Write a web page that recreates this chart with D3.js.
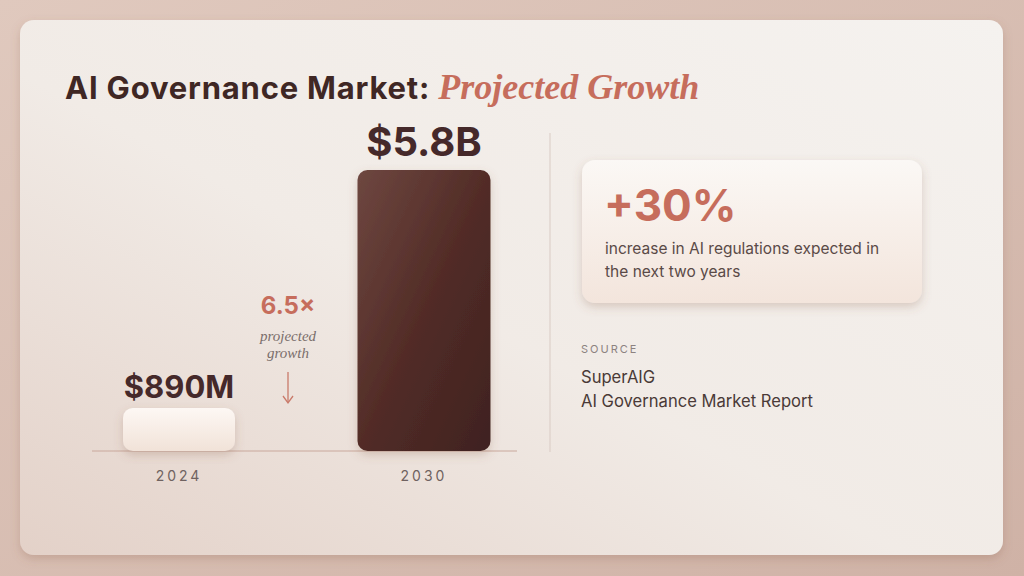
<!DOCTYPE html>
<html><head><meta charset="utf-8">
<script src="https://cdn.jsdelivr.net/npm/d3@7"></script>
<style>body{margin:0;background:#d9c3b8;}svg{display:block}</style>
</head><body><svg id="c" width="1024" height="576"></svg>
<script>
const years = ["2024", "2030"];
const values = [0.89, 5.8];
const valueLabels = ["$890M", "$5.8B"];
const multiplier = "6.5×";
const statValue = "+30%";
const statText = ["increase in AI regulations expected in", "the next two years"];
const sourceLines = ["SuperAIG", "AI Governance Market Report"];

const svg = d3.select("#c");
const defs = svg.append("defs");
const bg = defs.append("linearGradient").attr("id","bg").attr("x1","0").attr("y1","0").attr("x2","1").attr("y2","1");
bg.append("stop").attr("offset","0").attr("stop-color","#e0c9be");
bg.append("stop").attr("offset","1").attr("stop-color","#cfb2a6");
const card = defs.append("linearGradient").attr("id","card").attr("x1","0").attr("y1","1").attr("x2","1").attr("y2","0");
card.append("stop").attr("offset","0").attr("stop-color","#e3d1c8");
card.append("stop").attr("offset","0.45").attr("stop-color","#f1ebe6");
card.append("stop").attr("offset","1").attr("stop-color","#f5f2ef");
const dark = defs.append("linearGradient").attr("id","dark").attr("x1","0").attr("y1","0").attr("x2","1").attr("y2","1");
dark.append("stop").attr("offset","0").attr("stop-color","#6e4740");
dark.append("stop").attr("offset","0.5").attr("stop-color","#522c27");
dark.append("stop").attr("offset","1").attr("stop-color","#3f2220");
const light = defs.append("linearGradient").attr("id","light").attr("x1","0").attr("y1","0").attr("x2","0").attr("y2","1");
light.append("stop").attr("offset","0").attr("stop-color","#fdf8f4");
light.append("stop").attr("offset","1").attr("stop-color","#f1e2d8");
const stat = defs.append("linearGradient").attr("id","stat").attr("x1","0").attr("y1","0").attr("x2","0").attr("y2","1");
stat.append("stop").attr("offset","0").attr("stop-color","#fbf8f5");
stat.append("stop").attr("offset","1").attr("stop-color","#f3e5dc");
const sh = defs.append("filter").attr("id","sh").attr("x","-20%").attr("y","-20%").attr("width","140%").attr("height","150%");
sh.append("feDropShadow").attr("dx",0).attr("dy",4).attr("stdDeviation",5).attr("flood-color","#8a5a48").attr("flood-opacity",0.25);

svg.append("rect").attr("width",1024).attr("height",576).attr("fill","url(#bg)");
svg.append("rect").attr("x",20).attr("y",20).attr("width",983).attr("height",535).attr("rx",14)
  .attr("fill","url(#card)").attr("filter","url(#sh)");

const sans = "Inter, 'Open Sans', sans-serif";
const serif = "'Liberation Serif', 'DejaVu Serif', serif";

const title = svg.append("text").attr("x",65).attr("y",99).attr("font-family",sans).attr("font-weight",700)
  .attr("font-size",31).attr("fill","#3f2724");
title.append("tspan").attr("letter-spacing",0.8).text("AI Governance Market: ");
title.append("tspan").attr("font-family",serif).attr("font-style","italic").attr("font-weight",700)
  .attr("font-size",36).attr("fill","#c66d5c").text("Projected Growth");

// chart
const baseY = 451;
const x = d3.scalePoint().domain(years).range([179, 424]);
const y = d3.scaleLinear().domain([0, 5.8]).range([baseY, 170]);
const widths = [112, 133];

svg.append("line").attr("x1",92).attr("x2",517).attr("y1",baseY).attr("y2",baseY)
  .attr("stroke","#c9a89c").attr("stroke-width",1);

years.forEach((yr,i)=>{
  const w = widths[i];
  svg.append("rect").attr("x",x(yr)-w/2).attr("y",y(values[i])).attr("width",w)
    .attr("height",baseY-y(values[i])).attr("rx",10)
    .attr("fill", i===0?"url(#light)":"url(#dark)").attr("filter","url(#sh)");
  svg.append("text").attr("x",x(yr)).attr("y",y(values[i])-(i===0?10:14)).attr("text-anchor","middle")
    .attr("font-family",sans).attr("font-weight",700).attr("font-size",i===0?31:40)
    .attr("fill","#45292a").text(valueLabels[i]);
  svg.append("text").attr("x",x(yr)).attr("y",481).attr("text-anchor","middle")
    .attr("font-family",sans).attr("font-size",14).attr("letter-spacing",3)
    .attr("fill","#6f6260").text(yr);
});

svg.append("text").attr("x",288).attr("y",314).attr("text-anchor","middle").attr("font-family",sans)
  .attr("font-weight",700).attr("font-size",24).attr("fill","#c66d5c").text(multiplier);
["projected","growth"].forEach((t,i)=>svg.append("text").attr("x",288).attr("y",341+i*17)
  .attr("text-anchor","middle").attr("font-family",serif).attr("font-style","italic")
  .attr("font-size",15).attr("fill","#7a6e6b").text(t));
svg.append("line").attr("x1",288).attr("x2",288).attr("y1",372).attr("y2",402).attr("stroke","#c97a6a").attr("stroke-width",1.3);
svg.append("path").attr("d","M283,396 L288,403 L293,396").attr("fill","none").attr("stroke","#c97a6a").attr("stroke-width",1.3);

svg.append("line").attr("x1",550).attr("x2",550).attr("y1",133).attr("y2",452).attr("stroke","#d9cbc4");

// stat card
svg.append("rect").attr("x",582).attr("y",160).attr("width",340).attr("height",143).attr("rx",13)
  .attr("fill","url(#stat)").attr("filter","url(#sh)");
svg.append("text").attr("x",604).attr("y",221).attr("font-family",sans).attr("font-weight",700)
  .attr("font-size",44).attr("fill","#c66d5c").text(statValue);
statText.forEach((t,i)=>svg.append("text").attr("x",605).attr("y",254+i*23).attr("font-family",sans)
  .attr("font-size",15.5).attr("fill","#5a4a47").text(t));

svg.append("text").attr("x",581).attr("y",353).attr("font-family",sans).attr("font-size",11)
  .attr("letter-spacing",2).attr("fill","#8c8280").text("SOURCE");
sourceLines.forEach((t,i)=>svg.append("text").attr("x",581).attr("y",383+i*24).attr("font-family",sans)
  .attr("font-size",16.6).attr("fill","#4a3a37").text(t));
</script></body></html>
